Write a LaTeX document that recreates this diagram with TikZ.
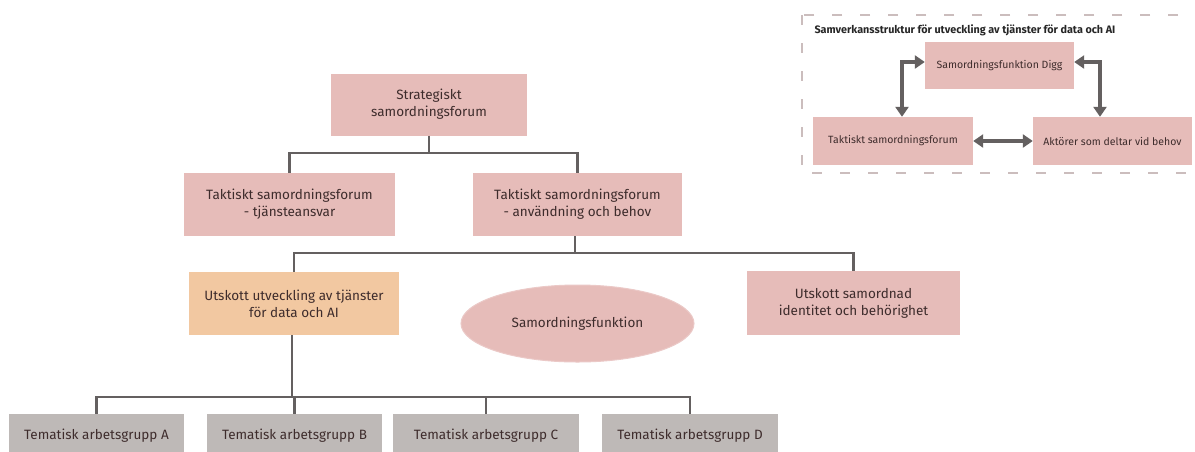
\documentclass[tikz,border=0pt]{standalone}
\usepackage{fontspec}
\setmainfont{Fira Sans}
\usetikzlibrary{shapes.geometric,arrows.meta}
\definecolor{pinkfill}{HTML}{E6BCB9}
\definecolor{orangefill}{HTML}{F2C8A1}
\definecolor{greyfill}{HTML}{BEB9B7}
\definecolor{txt}{HTML}{3E2C2C}
\definecolor{conncol}{HTML}{646060}
\definecolor{dashcol}{HTML}{CBBDBD}
\tikzset{
  box/.style={rectangle, fill=pinkfill, text=txt, align=center, inner sep=2pt, font=\fontsize{13.5}{17}\selectfont},
  obox/.style={box, fill=orangefill},
  gbox/.style={box, fill=greyfill},
  ell/.style={ellipse, fill=pinkfill, draw=pinkfill!80!white, line width=1pt, text=txt, inner sep=0pt, font=\fontsize{13.5}{17}\selectfont},
  ibox/.style={rectangle, fill=pinkfill, text=txt, align=center, inner sep=2pt, font=\fontsize{10.5}{13}\selectfont},
  conn/.style={draw=conncol, line width=2.6pt},
  darr/.style={draw=conncol, line width=3.8pt, {Triangle[length=10pt,width=13pt]}-{Triangle[length=10pt,width=13pt]}},
}
\begin{document}
\begin{tikzpicture}[x=1pt,y=-1pt]
\useasboundingbox (0,0) rectangle (1195,451);
\fill[white] (0,0) rectangle (1195,451);
% main tree
\node[box, minimum width=196pt, minimum height=62pt] (strat) at (429,104.5) {Strategiskt\\samordningsforum};
\node[box, minimum width=211pt, minimum height=63pt] (tj) at (289.5,204.5) {Taktiskt samordningsforum\\- tjänsteansvar};
\node[box, minimum width=209pt, minimum height=63pt] (anv) at (577.5,204.5) {Taktiskt samordningsforum\\- användning och behov};
\node[obox, minimum width=210pt, minimum height=63pt] (dataai) at (294,303.5) {Utskott utveckling av tjänster\\för data och AI};
\node[ell, minimum width=233pt, minimum height=77pt] (samf) at (577.5,323.5) {Samordningsfunktion};
\node[box, minimum width=213pt, minimum height=64pt] (samid) at (853.5,303) {Utskott samordnad\\identitet och behörighet};
\node[gbox, minimum width=175pt, minimum height=44pt] (ga) at (96.5,436) {Tematisk arbetsgrupp A};
\node[gbox, minimum width=175pt, minimum height=44pt] (gb) at (294.5,436) {Tematisk arbetsgrupp B};
\node[gbox, minimum width=186pt, minimum height=44pt] (gc) at (486,436) {Tematisk arbetsgrupp C};
\node[gbox, minimum width=176pt, minimum height=44pt] (gd) at (690,436) {Tematisk arbetsgrupp D};
\coordinate (j1) at (429,153);
\coordinate (j2) at (575,253);
\coordinate (j3) at (292,397);
\draw[conn] (strat.south) -- (j1);
\draw[conn] (j1) -| (tj.north);
\draw[conn] (j1) -| (anv.north);
\draw[conn] (j2 |- anv.south) -- (j2);
\draw[conn] (j2) -| (dataai.north);
\draw[conn] (j2) -| (samid.north);
\draw[conn] (j3 |- dataai.south) -- (j3);
\draw[conn] (j3) -| (ga.north);
\draw[conn] (j3) -| (gb.north);
\draw[conn] (j3) -| (gc.north);
\draw[conn] (j3) -| (gd.north);
% inset
\draw[dashcol, line width=1.5pt, dash pattern=on 10pt off 18pt] (802,15) rectangle (1210,173);
\node[anchor=west, font=\fontsize{10.8}{13}\selectfont\bfseries, text=black!85] (title) at (811,30) {Samverkansstruktur för utveckling av tjänster för data och AI};
\node[ibox, minimum width=149pt, minimum height=47pt] (digg) at (999.5,65.5) {Samordningsfunktion Digg};
\node[ibox, minimum width=160pt, minimum height=48pt] (itak) at (893,141) {Taktiskt samordningsforum};
\node[ibox, minimum width=159pt, minimum height=48pt] (akt) at (1112.5,141) {Aktörer som deltar vid behov};
\coordinate (lx) at (902,0);
\coordinate (rx) at (1100,0);
\draw[darr] ([yshift=3.5pt]digg.west) -| (lx |- itak.north);
\draw[darr] ([yshift=3.5pt]digg.east) -| (rx |- akt.north);
\draw[darr] (itak.east) -- (akt.west);
\end{tikzpicture}
\end{document}
